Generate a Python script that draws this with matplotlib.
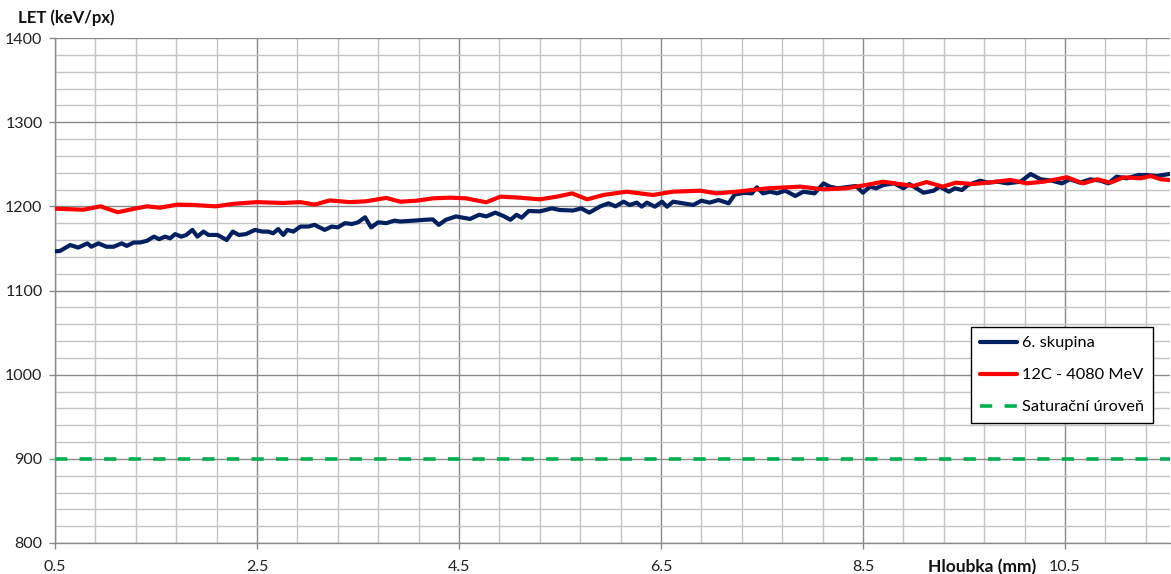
import matplotlib
matplotlib.use("Agg")
import numpy as np
import matplotlib.pyplot as plt
from matplotlib.ticker import MultipleLocator, FixedLocator

plt.rcParams['font.family'] = ['Lato', 'DejaVu Sans']

# 6. skupina – measured LET along depth
depth_skupina = [0.50, 0.55, 0.65, 0.73, 0.82, 0.86, 0.93, 1.01, 1.08, 1.16, 1.21, 1.28,
                 1.34, 1.41, 1.48, 1.53, 1.59, 1.64, 1.69, 1.75, 1.80, 1.86, 1.91, 1.97,
                 2.02, 2.11, 2.20, 2.26, 2.32, 2.39, 2.48, 2.55, 2.61, 2.66, 2.71, 2.76,
                 2.80, 2.86, 2.93, 3.01, 3.07, 3.17, 3.24, 3.30, 3.37, 3.44, 3.50, 3.57,
                 3.63, 3.70, 3.78, 3.86, 3.92, 4.05, 4.16, 4.24, 4.30, 4.37, 4.47, 4.61,
                 4.70, 4.77, 4.86, 4.94, 5.01, 5.07, 5.12, 5.19, 5.30, 5.42, 5.50, 5.63,
                 5.71, 5.79, 5.90, 5.98, 6.05, 6.13, 6.19, 6.26, 6.31, 6.36, 6.44, 6.51,
                 6.56, 6.62, 6.72, 6.82, 6.90, 6.98, 7.07, 7.17, 7.23, 7.32, 7.40, 7.45,
                 7.51, 7.58, 7.65, 7.73, 7.83, 7.91, 8.02, 8.11, 8.17, 8.25, 8.33, 8.43,
                 8.50, 8.57, 8.63, 8.70, 8.81, 8.90, 8.96, 9.03, 9.10, 9.20, 9.26, 9.35,
                 9.41, 9.48, 9.54, 9.66, 9.74, 9.83, 9.93, 10.06, 10.16, 10.26, 10.37, 10.47,
                 10.55, 10.65, 10.75, 10.85, 10.93, 11.01, 11.11, 11.23, 11.31, 11.41, 11.53]
let_skupina = [1146.5, 1147, 1154, 1151, 1156, 1152, 1156, 1152, 1152, 1156, 1153, 1157,
               1157, 1159, 1164, 1161, 1164, 1162, 1167, 1164, 1166, 1172, 1164, 1170,
               1166, 1166, 1160, 1170, 1166, 1167, 1172, 1170, 1170, 1168, 1173, 1166,
               1172, 1170, 1176, 1176, 1178, 1172, 1176, 1175, 1180, 1179, 1181, 1187,
               1175, 1181, 1180, 1183, 1182, 1183, 1184, 1184.5, 1178, 1184, 1188, 1185,
               1190, 1188, 1192.5, 1188.5, 1184, 1190, 1186.5, 1194.5, 1194, 1197.6, 1195.6, 1195,
               1197.6, 1192.5, 1200, 1203.6, 1200, 1205.5, 1201.6, 1204.4, 1199.6, 1204.4, 1199.6, 1205.5,
               1199.6, 1205.5, 1203.6, 1201.6, 1206.7, 1204.4, 1207.5, 1203.6, 1214, 1216, 1215.4, 1222.6,
               1215.4, 1217.4, 1215.4, 1218.6, 1212.3, 1217.4, 1215.4, 1227.3, 1223.4, 1221.4, 1222.6, 1224.2,
               1216.2, 1223.4, 1221.4, 1225.3, 1227.3, 1221.4, 1226.5, 1221.4, 1216.2, 1218.6, 1223.4, 1217.4,
               1221.4, 1219.4, 1225.3, 1230.5, 1228.1, 1229.3, 1227.3, 1229.3, 1238.4, 1232.1, 1230.5, 1227.3,
               1232.1, 1228.1, 1232.1, 1230.5, 1227.3, 1235.2, 1233.3, 1237.2, 1237.2, 1236, 1238.4]

# 12C - 4080 MeV – reference LET curve
depth_12c = [0.50, 0.78, 0.95, 1.12, 1.28, 1.41, 1.54, 1.71, 1.87, 2.09, 2.27, 2.50,
             2.76, 2.93, 3.07, 3.22, 3.42, 3.58, 3.78, 3.92, 4.08, 4.24, 4.41, 4.57,
             4.77, 4.91, 5.10, 5.30, 5.47, 5.62, 5.77, 5.93, 6.16, 6.42, 6.62, 6.89,
             7.05, 7.25, 7.55, 7.88, 8.11, 8.33, 8.53, 8.70, 8.86, 9.00, 9.13, 9.29,
             9.42, 9.59, 9.79, 9.96, 10.12, 10.29, 10.52, 10.68, 10.82, 10.95, 11.08, 11.25,
             11.35, 11.45, 11.53]
let_12c = [1197.2, 1196, 1200, 1193, 1197, 1200, 1198.4, 1202, 1201.6, 1200, 1203, 1205,
           1204, 1205, 1202, 1207, 1205, 1206, 1210, 1205.5, 1206.7, 1209.5, 1210.3, 1209.5,
           1204.8, 1211.5, 1210.3, 1208.3, 1211.5, 1215.4, 1208.3, 1213.5, 1217.4, 1213.5, 1217.4, 1218.6,
           1215.4, 1217.4, 1221.4, 1223.4, 1220.2, 1221.4, 1225.3, 1229.3, 1226.5, 1224.2, 1228.9, 1223.4,
           1228.1, 1226.5, 1228.9, 1231.3, 1227.3, 1229.3, 1234.5, 1227.3, 1232.1, 1228.1, 1234.5, 1233.3,
           1236, 1232.1, 1231.3]

# Saturation level
saturation_level = 900

x_ticks = [0.5, 2.5, 4.5, 6.5, 8.5, 10.5]
x_tick_labels = ['0.5', '2.5', '4.5', '6.5', '8.5', '10.5']
y_ticks = [800, 900, 1000, 1100, 1200, 1300, 1400]

W, H = 1171, 574
fig = plt.figure(figsize=(W / 100, H / 100), dpi=100)
ax = fig.add_axes([55 / W, 1 - 543 / H, (1170 - 55) / W, (543 - 38) / H])

x_max = 11.54
ax.set_xlim(0.5, x_max)
ax.set_ylim(800, 1400)

ax.xaxis.set_major_locator(FixedLocator(x_ticks))
ax.set_xticklabels(x_tick_labels)
ax.xaxis.set_minor_locator(FixedLocator(np.arange(0.5, x_max, 0.4)))
ax.yaxis.set_major_locator(FixedLocator(y_ticks))
ax.yaxis.set_minor_locator(MultipleLocator(20))

ax.grid(which='major', color='#8a8a8a', linewidth=1.0, zorder=0)
ax.grid(which='minor', color='#c4c4c4', linewidth=1.0, zorder=0)
ax.set_axisbelow(True)

for side in ('top', 'right'):
    ax.spines[side].set_visible(False)
for side in ('left', 'bottom'):
    ax.spines[side].set_color('#8a8a8a')
    ax.spines[side].set_linewidth(1.0)

ax.tick_params(which='major', direction='out', length=4, width=1.0, color='#8a8a8a',
               labelsize=11.5, labelcolor='#222222')
ax.tick_params(axis='x', which='major', pad=8)
ax.tick_params(axis='y', which='major', pad=5)
ax.tick_params(which='minor', length=0)

ax.plot(depth_skupina, let_skupina, color='#002060', linewidth=3.0,
        solid_joinstyle='round', solid_capstyle='round', label='6. skupina', zorder=3)
ax.plot(depth_12c, let_12c, color='#ff0000', linewidth=3.0,
        solid_joinstyle='round', solid_capstyle='round', label='12C - 4080 MeV', zorder=4)
ax.plot([0.5, x_max], [saturation_level, saturation_level], color='#00b050', linewidth=2.6,
        linestyle=(0, (3.4, 3.4)), label='Saturační úroveň', zorder=3, clip_on=False)

leg = ax.legend(loc='upper left', bbox_to_anchor=(0.8215, 0.428), fontsize=11.8,
                frameon=True, fancybox=False, edgecolor='black', framealpha=1,
                handlelength=2.25, handletextpad=0.3, borderpad=0.55,
                labelspacing=1.07, borderaxespad=0)
leg.get_frame().set_linewidth(1.0)

fig.text(18 / W, 1 - 18 / H, 'LET (keV/px)', fontsize=12, fontweight='bold',
         ha='left', va='center', color='#111111')
fig.text(982 / W, 1 - 567 / H, 'Hloubka (mm)', fontsize=12.5, fontweight='bold',
         ha='center', va='center', color='#111111')

fig.savefig('out.png', dpi=100)
